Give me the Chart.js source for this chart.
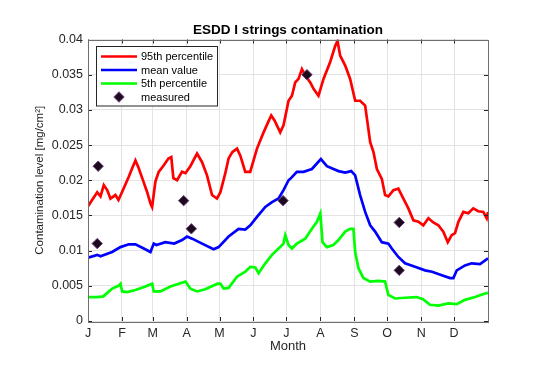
<!DOCTYPE html>
<html><head><meta charset="utf-8">
<script src="https://cdn.jsdelivr.net/npm/chart.js@4.4.1/dist/chart.umd.min.js"></script>
<style>html,body{margin:0;padding:0;background:#fff}#wrap{width:538px;height:380px;position:relative}</style>
</head><body><div id="wrap"><canvas id="c"></canvas></div>
<script>
const monthLabels = ['J','F','M','A','M','J','J','A','S','O','N','D'];
const monthStartDays = [1,32,60,91,121,152,182,213,244,274,305,335];
const yTickValues = [0,0.005,0.01,0.015,0.02,0.025,0.03,0.035,0.04];

const p95Days = [1,9.4,12.4,15.4,18.5,21.5,26,28.8,32,38.2,41.3,44.3,47.3,51.6,55,58,59.5,62.5,65.5,70,74.4,77,78.9,82.3,86.8,89.9,94.4,100.5,105,109.6,114.2,118.7,121.8,126.3,129.3,132.7,137,140,144.5,149,155.2,161.2,165.5,168.2,171.2,176.4,179.4,184,187.1,190.1,193.1,196.2,199.2,203.8,206.8,211.3,215.9,222,226.6,228.7,231.1,235.7,240.2,244.8,249.3,253.9,258.5,261.5,264.6,269.1,272.1,275.1,279.7,284.2,288.8,293.3,297.9,302.5,307,311.6,316.1,320.7,325.2,329.3,332.9,335.9,339,343.5,348,352.6,357.1,361.7,364.8,366];
const p95Vals = [0.0163,0.0183,0.0177,0.0193,0.0186,0.0174,0.0179,0.0172,0.0183,0.0205,0.0217,0.0228,0.0217,0.0198,0.0183,0.0167,0.0162,0.0198,0.0212,0.0221,0.0231,0.0233,0.0203,0.0200,0.0212,0.0210,0.0220,0.0238,0.0226,0.0207,0.0179,0.0174,0.0183,0.0210,0.0231,0.0240,0.0245,0.0235,0.0212,0.0212,0.0245,0.0268,0.0283,0.0292,0.0285,0.0268,0.0278,0.0313,0.0320,0.0339,0.0344,0.0358,0.0349,0.0339,0.0330,0.0320,0.0344,0.0368,0.0391,0.0398,0.0377,0.0363,0.0344,0.0313,0.0313,0.0306,0.0254,0.0240,0.0216,0.0202,0.0179,0.0177,0.0186,0.0188,0.0174,0.0160,0.0143,0.0141,0.0136,0.0146,0.0140,0.0136,0.0127,0.0112,0.0122,0.0125,0.0141,0.0155,0.0153,0.0160,0.0156,0.0155,0.0146,0.0155];

const meanDays = [1,9.4,12.4,23,30.6,38.2,44.3,51.9,58,61,63.4,71.6,79.7,86.8,91.4,96,105.1,115.6,120.2,129.3,138.4,144.5,149.1,155.2,162.8,168.9,174.9,179.4,184,185.6,191.6,197.7,205.3,213.5,219,225,229.6,235.7,241.2,244.8,249.3,253.9,258.5,263,269.1,275.1,278.2,284.2,290.3,299.4,308.5,314.9,323.8,331.4,334.4,337.5,345,351.1,358.7,366];
const meanVals = [0.0090,0.0094,0.0092,0.0098,0.0105,0.0109,0.0109,0.0103,0.0098,0.0110,0.0108,0.0112,0.0110,0.0115,0.0120,0.0117,0.0110,0.0102,0.0105,0.0120,0.0131,0.0130,0.0136,0.0148,0.0162,0.0169,0.0174,0.0186,0.0200,0.0202,0.0212,0.0212,0.0216,0.0230,0.0220,0.0216,0.0213,0.0211,0.0213,0.0207,0.0179,0.0155,0.0136,0.0127,0.0112,0.0110,0.0103,0.0091,0.0082,0.0077,0.0072,0.0070,0.0065,0.0061,0.0061,0.0072,0.0079,0.0082,0.0081,0.0089];

const p5Days = [1,9.4,15,23,28.8,30.6,32.2,36.7,44.3,53.4,59.5,61,67.1,76.2,83.8,89.9,94.4,100.5,108,119.2,121.8,124.8,129.3,137,144.5,149.1,153.7,156.7,162.8,168.9,174.9,179.4,181,184,187.1,191.6,199.2,205.3,209.9,213,215,219,224.8,229.6,235.7,240.2,243.2,244.8,247.8,252.3,258.5,265.7,272.1,275.1,281.2,290.3,300.9,306.7,313.1,320.7,329.8,337.5,345,354.2,363.3,366];
const p5Vals = [0.0034,0.0034,0.0035,0.0046,0.0050,0.0053,0.0042,0.0041,0.0044,0.0049,0.0053,0.0042,0.0042,0.0049,0.0053,0.0056,0.0046,0.0042,0.0045,0.0053,0.0053,0.0046,0.0047,0.0063,0.0070,0.0077,0.0076,0.0068,0.0082,0.0094,0.0103,0.0110,0.0122,0.0108,0.0103,0.0110,0.0117,0.0131,0.0141,0.0153,0.0112,0.0105,0.0108,0.0115,0.0127,0.0131,0.0131,0.0098,0.0075,0.0061,0.0056,0.0057,0.0056,0.0037,0.0032,0.0033,0.0034,0.0031,0.0023,0.0022,0.0025,0.0024,0.0030,0.0034,0.0039,0.0040];

const measuredDays = [10.3,9.4,88.3,95.3,179,200.8,285,285];
const measuredVals = [0.0220,0.0110,0.0171,0.0131,0.0171,0.0350,0.0140,0.0072];

const seriesNames = ['95th percentile','mean value','5th percentile','measured'];

function pts(d, v){ return d.map((x,i)=>({x:x, y:v[i]})); }

const FONT = "'Liberation Sans', Arial, Helvetica, sans-serif";
const AX = '#262626';

const decorPlugin = {
  id: 'decor',
  afterDatasetsDraw(chart){
    const {ctx, chartArea:a, scales:{x, y}} = chart;
    ctx.save();
    ctx.strokeStyle = AX; ctx.lineWidth = 1;
    const L = 4;
    ctx.beginPath();
    monthStartDays.forEach(d => {
      const px = Math.round(x.getPixelForValue(d)) + 0.5;
      ctx.moveTo(px, a.bottom); ctx.lineTo(px, a.bottom - L);
      ctx.moveTo(px, a.top); ctx.lineTo(px, a.top + L);
    });
    yTickValues.forEach(v => {
      const py = Math.round(y.getPixelForValue(v)) + 0.5;
      ctx.moveTo(a.left, py); ctx.lineTo(a.left + L, py);
      ctx.moveTo(a.right, py); ctx.lineTo(a.right - L, py);
    });
    ctx.stroke();
    ctx.strokeStyle = '#6e6e6e';
    ctx.strokeRect(Math.round(a.left)+0.5, Math.round(a.top)+0.5, Math.round(a.right-a.left), Math.round(a.bottom-a.top));
    ctx.restore();
  },
  afterDraw(chart){
    const {ctx, chartArea:a} = chart;
    ctx.save();
    ctx.fillStyle = '#000';
    ctx.font = "bold 13.5px " + FONT;
    ctx.textAlign = 'center'; ctx.textBaseline = 'middle';
    ctx.fillText('ESDD I strings contamination', (a.left + a.right)/2, 30);
    const bx = 96.5, by = 46.5, bw = 121, bh = 59.5;
    ctx.fillStyle = '#fff';
    ctx.fillRect(bx, by, bw, bh);
    ctx.strokeStyle = '#262626'; ctx.lineWidth = 1;
    ctx.strokeRect(bx, by, bw, bh);
    const rows = [56.5, 70, 83.5, 97];
    ctx.font = "11px " + FONT;
    ctx.textAlign = 'left';
    chart.data.datasets.forEach(ds => {
      const idx = seriesNames.indexOf(ds.label);
      const ry = rows[idx];
      if (ds.showLine === false) {
        ctx.save();
        ctx.translate(119, ry);
        ctx.rotate(Math.PI/4);
        ctx.fillStyle = ds.backgroundColor;
        ctx.strokeStyle = ds.borderColor;
        ctx.lineWidth = 1;
        ctx.fillRect(-3.5,-3.5,7,7);
        ctx.strokeRect(-3.5,-3.5,7,7);
        ctx.restore();
      } else {
        ctx.strokeStyle = ds.borderColor;
        ctx.lineWidth = 2.5;
        ctx.beginPath(); ctx.moveTo(101, ry); ctx.lineTo(137, ry); ctx.stroke();
      }
      ctx.fillStyle = '#000';
      ctx.fillText(ds.label, 141, ry + 0.5);
    });
    ctx.restore();
  }
};

new Chart(document.getElementById('c'), {
  type: 'line',
  data: {
    datasets: [
      { label: seriesNames[3], data: pts(measuredDays, measuredVals), showLine: false,
        pointStyle: 'rectRot', pointRadius: 5.2, pointHoverRadius: 5.2,
        backgroundColor: '#1a0a1c', borderColor: '#6a3a78', pointBorderWidth: 1 },
      { label: seriesNames[0], data: pts(p95Days, p95Vals), borderColor: '#ff0000', backgroundColor: '#ff0000',
        borderWidth: 2.7, pointRadius: 0, tension: 0 },
      { label: seriesNames[1], data: pts(meanDays, meanVals), borderColor: '#0000ff', backgroundColor: '#0000ff',
        borderWidth: 2.7, pointRadius: 0, tension: 0 },
      { label: seriesNames[2], data: pts(p5Days, p5Vals), borderColor: '#00ff00', backgroundColor: '#00ff00',
        borderWidth: 2.7, pointRadius: 0, tension: 0 }
    ]
  },
  options: {
    responsive: true, maintainAspectRatio: false, animation: false,
    layout: { padding: { left: 0, right: 50, top: 39.5, bottom: 0 } },
    plugins: { legend: { display: false }, title: { display: false }, tooltip: { enabled: false } },
    scales: {
      x: {
        type: 'linear', min: 1, max: 366,
        afterBuildTicks: s => { s.ticks = monthStartDays.map(v => ({ value: v })); },
        afterFit: s => { s.height = 59; },
        ticks: { autoSkip: false, maxRotation: 0, padding: 5.5, color: AX,
          font: { family: FONT, size: 12.5 },
          callback: (v) => monthLabels[monthStartDays.indexOf(v)] },
        grid: { color: '#e3e3e3', drawTicks: false, lineWidth: 1 },
        border: { display: false },
        title: { display: true, text: 'Month', color: AX, font: { family: FONT, size: 13 }, padding: { top: 0, bottom: 25.5 } }
      },
      y: {
        min: 0, max: 0.04,
        afterBuildTicks: s => { s.ticks = yTickValues.map(v => ({ value: v })); },
        afterFit: s => { s.width = 88; },
        ticks: { padding: 5, color: AX, font: { family: FONT, size: 12.5 },
          callback: v => String(Number(v.toFixed(3))) },
        grid: { color: '#e3e3e3', drawTicks: false, lineWidth: 1 },
        border: { display: false },
        title: { display: true, text: 'Contamination level [mg/cm²]', color: AX, font: { family: FONT, size: 11.5 }, padding: { top: 33, bottom: 0 } }
      }
    }
  },
  plugins: [decorPlugin]
});
</script></body></html>
